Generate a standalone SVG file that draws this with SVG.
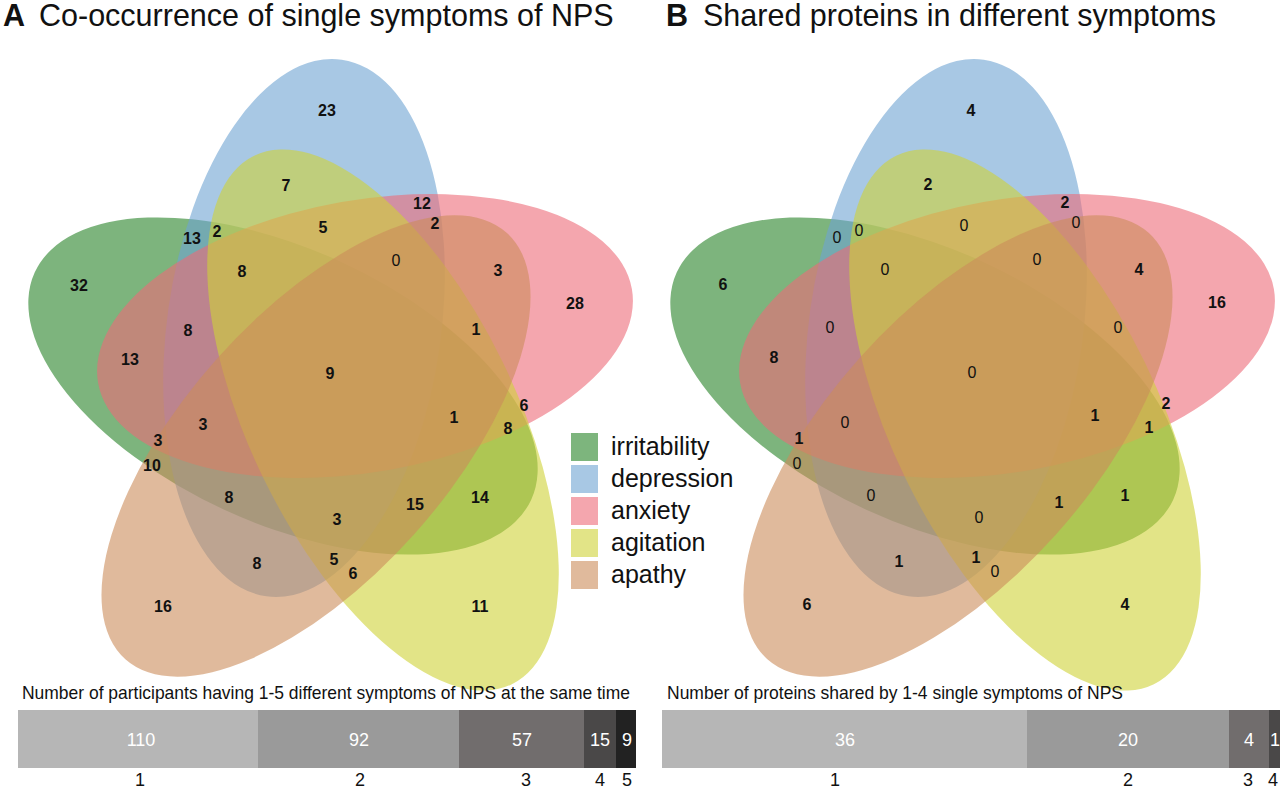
<svg xmlns="http://www.w3.org/2000/svg" width="1280" height="790" viewBox="0 0 1280 790">
<style>
.g{fill:#268226;fill-opacity:.6}
.b{fill:#6ea3d2;fill-opacity:.6}
.p{fill:#ed6b78;fill-opacity:.6}
.y{fill:#cfd237;fill-opacity:.6}
.a{fill:#cb8c5a;fill-opacity:.6}
.n{font-family:"Liberation Sans",Arial,sans-serif;font-size:16px;font-weight:bold;fill:#111;text-anchor:middle}
.z{font-family:"Liberation Sans",Arial,sans-serif;font-size:16px;font-weight:normal;fill:#111;text-anchor:middle}
.t{font-family:"Liberation Sans",Arial,sans-serif;font-size:30.5px;fill:#111}
.lg{font-family:"Liberation Sans",Arial,sans-serif;font-size:25px;fill:#111}
.bt{font-family:"Liberation Sans Narrow","Liberation Sans",Arial,sans-serif;font-size:18.5px;fill:#111}
.bv{font-family:"Liberation Sans Narrow","Liberation Sans",Arial,sans-serif;font-size:18px;fill:#fff;text-anchor:middle}
.bl{font-family:"Liberation Sans Narrow","Liberation Sans",Arial,sans-serif;font-size:18px;fill:#111;text-anchor:middle}
</style>
<defs>
<ellipse id="eG" cx="283" cy="386" rx="273" ry="137" transform="rotate(24.6 283 386)"/>
<ellipse id="eB" cx="304" cy="328" rx="271" ry="137" transform="rotate(98 304 328)"/>
<ellipse id="eP" cx="365" cy="336" rx="271" ry="136" transform="rotate(-10 365 336)"/>
<ellipse id="eY" cx="383" cy="420" rx="294" ry="133" transform="rotate(64 383 420)"/>
<ellipse id="eA" cx="316" cy="446" rx="286" ry="132" transform="rotate(-48.2 316 446)"/>
</defs>

<!-- Titles -->
<text class="t" x="3" y="26"><tspan font-weight="bold">A</tspan><tspan x="39">Co-occurrence of single symptoms of NPS</tspan></text>
<text class="t" x="666" y="26"><tspan font-weight="bold">B</tspan><tspan x="703">Shared proteins in different symptoms</tspan></text>

<!-- Panel A sets -->
<g id="panelA">
<g id="A-irritability"><use href="#eG" class="g"/></g>
<g id="A-depression"><use href="#eB" class="b"/></g>
<g id="A-anxiety"><use href="#eP" class="p"/></g>
<g id="A-agitation"><use href="#eY" class="y"/></g>
<g id="A-apathy"><use href="#eA" class="a"/></g>
<g id="A-labels">
<text class="n" x="327" y="116">23</text>
<text class="n" x="286" y="191">7</text>
<text class="n" x="422" y="209">12</text>
<text class="n" x="435" y="229">2</text>
<text class="n" x="192" y="244">13</text>
<text class="n" x="217" y="237">2</text>
<text class="n" x="323" y="233">5</text>
<text class="z" x="396" y="266">0</text>
<text class="n" x="242" y="277">8</text>
<text class="n" x="498" y="276">3</text>
<text class="n" x="79" y="291">32</text>
<text class="n" x="575" y="309">28</text>
<text class="n" x="476" y="335">1</text>
<text class="n" x="188" y="336">8</text>
<text class="n" x="130" y="365">13</text>
<text class="n" x="330" y="379">9</text>
<text class="n" x="524" y="411">6</text>
<text class="n" x="454" y="423">1</text>
<text class="n" x="508" y="434">8</text>
<text class="n" x="203" y="430">3</text>
<text class="n" x="158" y="446">3</text>
<text class="n" x="152" y="471">10</text>
<text class="n" x="229" y="503">8</text>
<text class="n" x="415" y="510">15</text>
<text class="n" x="480" y="503">14</text>
<text class="n" x="337" y="525">3</text>
<text class="n" x="257" y="569">8</text>
<text class="n" x="334" y="565">5</text>
<text class="n" x="353" y="579">6</text>
<text class="n" x="163" y="612">16</text>
<text class="n" x="480" y="612">11</text>
</g>
</g>

<!-- Legend -->
<g id="legend">
<rect x="571" y="433" width="27" height="28" fill="#7db57d"/>
<rect x="571" y="465" width="27" height="28" fill="#a8c8e4"/>
<rect x="571" y="497" width="27" height="28" fill="#f4a6ae"/>
<rect x="571" y="529" width="27" height="28" fill="#e2e487"/>
<rect x="571" y="561" width="27" height="28" fill="#e0ba9c"/>
<text class="lg" x="611" y="455">irritability</text>
<text class="lg" x="611" y="487">depression</text>
<text class="lg" x="611" y="519">anxiety</text>
<text class="lg" x="611" y="551">agitation</text>
<text class="lg" x="611" y="583">apathy</text>
</g>

<!-- Panel B sets -->
<g id="panelB">
<g transform="translate(642 0)">
<g id="B-irritability"><use href="#eG" class="g"/></g>
<g id="B-depression"><use href="#eB" class="b"/></g>
<g id="B-anxiety"><use href="#eP" class="p"/></g>
<g id="B-agitation"><use href="#eY" class="y"/></g>
<g id="B-apathy"><use href="#eA" class="a"/></g>
</g>
<g id="B-labels">
<text class="n" x="971" y="116">4</text>
<text class="n" x="928" y="190">2</text>
<text class="z" x="964" y="231">0</text>
<text class="n" x="1065" y="208">2</text>
<text class="z" x="1076" y="228">0</text>
<text class="z" x="837" y="243">0</text>
<text class="z" x="859" y="236">0</text>
<text class="z" x="885" y="275">0</text>
<text class="z" x="1037" y="265">0</text>
<text class="n" x="1139" y="275">4</text>
<text class="n" x="1217" y="308">16</text>
<text class="n" x="723" y="290">6</text>
<text class="z" x="830" y="333">0</text>
<text class="z" x="1118" y="333">0</text>
<text class="n" x="774" y="363">8</text>
<text class="z" x="972" y="378">0</text>
<text class="z" x="845" y="428">0</text>
<text class="n" x="1095" y="421">1</text>
<text class="n" x="1166" y="409">2</text>
<text class="n" x="1149" y="433">1</text>
<text class="n" x="799" y="444">1</text>
<text class="z" x="797" y="469">0</text>
<text class="z" x="871" y="501">0</text>
<text class="n" x="1059" y="508">1</text>
<text class="n" x="1125" y="501">1</text>
<text class="z" x="979" y="523">0</text>
<text class="n" x="899" y="567">1</text>
<text class="n" x="976" y="563">1</text>
<text class="z" x="995" y="577">0</text>
<text class="n" x="807" y="610">6</text>
<text class="n" x="1125" y="610">4</text>
</g>
</g>

<!-- Bar A -->
<g id="barA">
<text class="bt" x="22" y="699" textLength="608" lengthAdjust="spacingAndGlyphs">Number of participants having 1-5 different symptoms of NPS at the same time</text>
<rect x="18" y="710" width="240" height="58" fill="#b6b6b6"/>
<rect x="258" y="710" width="201" height="58" fill="#9a9a9a"/>
<rect x="459" y="710" width="125" height="58" fill="#716d6d"/>
<rect x="584" y="710" width="32" height="58" fill="#4a4848"/>
<rect x="616" y="710" width="20" height="58" fill="#222"/>
<text class="bv" x="141" y="746">110</text>
<text class="bv" x="359" y="746">92</text>
<text class="bv" x="522" y="746">57</text>
<text class="bv" x="600" y="746">15</text>
<text class="bv" x="627" y="746">9</text>
<text class="bl" x="140" y="786">1</text>
<text class="bl" x="360" y="786">2</text>
<text class="bl" x="526" y="786">3</text>
<text class="bl" x="600" y="786">4</text>
<text class="bl" x="627" y="786">5</text>
</g>

<!-- Bar B -->
<g id="barB">
<text class="bt" x="667" y="699" textLength="456" lengthAdjust="spacingAndGlyphs">Number of proteins shared by 1-4 single symptoms of NPS</text>
<rect x="662" y="710" width="365" height="58" fill="#b6b6b6"/>
<rect x="1027" y="710" width="202" height="58" fill="#9a9a9a"/>
<rect x="1229" y="710" width="40" height="58" fill="#716d6d"/>
<rect x="1269" y="710" width="11" height="58" fill="#4a4848"/>
<text class="bv" x="845" y="746">36</text>
<text class="bv" x="1128" y="746">20</text>
<text class="bv" x="1249" y="746">4</text>
<text class="bv" x="1275" y="746">1</text>
<text class="bl" x="835" y="786">1</text>
<text class="bl" x="1128" y="786">2</text>
<text class="bl" x="1248" y="786">3</text>
<text class="bl" x="1273" y="786">4</text>
</g>
</svg>
